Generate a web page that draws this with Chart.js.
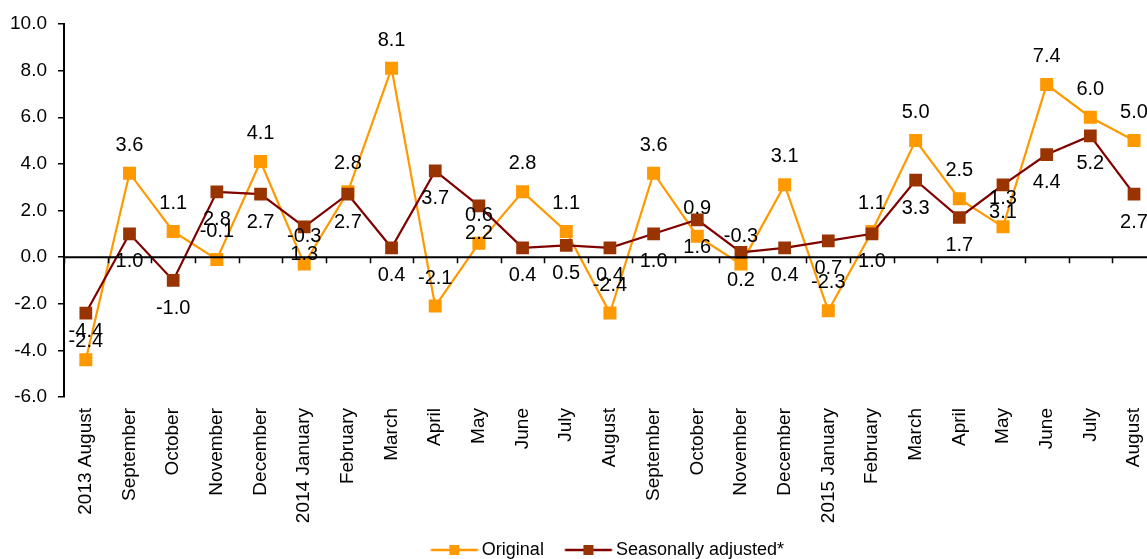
<!DOCTYPE html>
<html>
<head>
<meta charset="utf-8">
<script src="https://cdn.jsdelivr.net/npm/chart.js@4"></script>
<style>
  html, body { margin: 0; padding: 0; background: #fff; overflow: hidden; }
  #wrap { position: relative; width: 1168px; height: 569px; }
</style>
</head>
<body>
<div id="wrap"><canvas id="chart"></canvas></div>
<script>
const months = [
    '2013 August', 'September', 'October', 'November', 'December',
    '2014 January', 'February', 'March', 'April', 'May', 'June', 'July',
    'August', 'September', 'October', 'November', 'December',
    '2015 January', 'February', 'March', 'April', 'May', 'June', 'July', 'August'
];

const original = [-4.4, 3.6, 1.1, -0.1, 4.1, -0.3, 2.8, 8.1, -2.1, 0.6, 2.8, 1.1,
    -2.4, 3.6, 0.9, -0.3, 3.1, -2.3, 1.1, 5.0, 2.5, 1.3, 7.4, 6.0, 5.0];

const seasonal = [-2.4, 1.0, -1.0, 2.8, 2.7, 1.3, 2.7, 0.4, 3.7, 2.2, 0.4, 0.5,
    0.4, 1.0, 1.6, 0.2, 0.4, 0.7, 1.0, 3.3, 1.7, 3.1, 4.4, 5.2, 2.7];

const seriesNames = ['Original', 'Seasonally adjusted*'];
const yMin = -6, yMax = 10, yStep = 2;

const FONT = '"Liberation Sans", Arial, sans-serif';
const ORANGE = '#FF9900';
const DARK_LINE = '#800000';
const DARK_MARK = '#993300';

// line + square picture for the legend; drawn off-centre so the gaps
// around it come out like the original
function legendIcon(lineColor, markColor) {
    const c = document.createElement('canvas');
    c.width = 100;
    c.height = 14;
    const g = c.getContext('2d');
    g.strokeStyle = lineColor;
    g.lineWidth = 2.5;
    g.beginPath();
    g.moveTo(36.5, 7);
    g.lineTo(83.5, 7);
    g.stroke();
    g.fillStyle = markColor;
    g.fillRect(55, 2, 10, 10);
    return c;
}

// zero line with category tick marks
const zeroAxis = {
    id: 'zeroAxis',
    afterDatasetsDraw(chart) {
        const { ctx, chartArea, scales: { x, y } } = chart;
        const y0 = y.getPixelForValue(0);
        const step = x.getPixelForValue(1) - x.getPixelForValue(0);
        ctx.save();
        ctx.strokeStyle = '#000';
        ctx.lineWidth = 1.5;
        ctx.beginPath();
        for (let i = 0; i <= months.length; i++) {
            const px = Math.round(x.getPixelForValue(i) - step / 2) + 0.5;
            ctx.moveTo(px, y0);
            ctx.lineTo(px, y0 + 6);
        }
        ctx.stroke();
        ctx.lineWidth = 2;
        ctx.beginPath();
        ctx.moveTo(chartArea.left, y0);
        ctx.lineTo(chartArea.right, y0);
        ctx.stroke();
        ctx.restore();
    }
};

// value labels: original above the point, seasonal below
const valueLabels = {
    id: 'valueLabels',
    afterDraw(chart) {
        const ctx = chart.ctx;
        ctx.save();
        ctx.font = '20px ' + FONT;
        ctx.fillStyle = '#000';
        ctx.textAlign = 'center';
        ctx.textBaseline = 'middle';
        chart.data.datasets.forEach((ds, i) => {
            const meta = chart.getDatasetMeta(i);
            const shift = i === 0 ? -28 : 28;
            meta.data.forEach((pt, j) => {
                ctx.fillText(ds.data[j].toFixed(1), pt.x, pt.y + shift);
            });
        });
        ctx.restore();
    }
};

new Chart(document.getElementById('chart'), {
    type: 'line',
    data: {
        labels: months,
        datasets: [{
            label: seriesNames[0],
            data: original,
            borderColor: ORANGE,
            backgroundColor: ORANGE,
            borderWidth: 2.2,
            pointStyle: 'rect',
            pointRadius: 9.2,
            pointBorderWidth: 0,
            pointBackgroundColor: ORANGE,
            tension: 0,
            order: 1
        }, {
            label: seriesNames[1],
            data: seasonal,
            borderColor: DARK_LINE,
            backgroundColor: DARK_MARK,
            borderWidth: 2.2,
            pointStyle: 'rect',
            pointRadius: 9,
            pointBorderWidth: 0,
            pointBackgroundColor: DARK_MARK,
            tension: 0,
            order: 0
        }]
    },
    options: {
        responsive: true,
        maintainAspectRatio: false,
        animation: false,
        layout: { padding: { top: 24, left: 0, right: 0, bottom: 0 } },
        plugins: {
            tooltip: { enabled: false },
            legend: {
                position: 'bottom',
                fullSize: false,
                labels: {
                    usePointStyle: true,
                    pointStyleWidth: 57,
                    padding: 6,
                    color: '#000',
                    font: { family: FONT, size: 18 },
                    // trailing spaces nudge the centred legend a little to the left
                    generateLabels: () => [
                        { text: seriesNames[0], pointStyle: legendIcon(ORANGE, ORANGE), fontColor: '#000', lineWidth: 0, datasetIndex: 0 },
                        { text: seriesNames[1] + '    ', pointStyle: legendIcon(DARK_LINE, DARK_MARK), fontColor: '#000', lineWidth: 0, datasetIndex: 1 }
                    ]
                }
            }
        },
        scales: {
            x: {
                offset: true,
                grid: { display: false, drawTicks: false },
                border: { display: false },
                ticks: {
                    autoSkip: false,
                    maxRotation: 90,
                    minRotation: 90,
                    padding: 11,
                    color: '#000',
                    font: { family: FONT, size: 19 }
                },
                afterFit: s => { s.height = 138; }
            },
            y: {
                min: yMin,
                max: yMax,
                grid: { drawOnChartArea: false, drawTicks: true, tickLength: 6, color: '#000', lineWidth: 1.5 },
                border: { display: true, color: '#000', width: 2 },
                ticks: {
                    stepSize: yStep,
                    padding: 11,
                    color: '#000',
                    font: { family: FONT, size: 19 },
                    callback: v => v.toFixed(1)
                },
                afterFit: s => { s.width = 64; }
            }
        }
    },
    plugins: [zeroAxis, valueLabels]
});
</script>
</body>
</html>
